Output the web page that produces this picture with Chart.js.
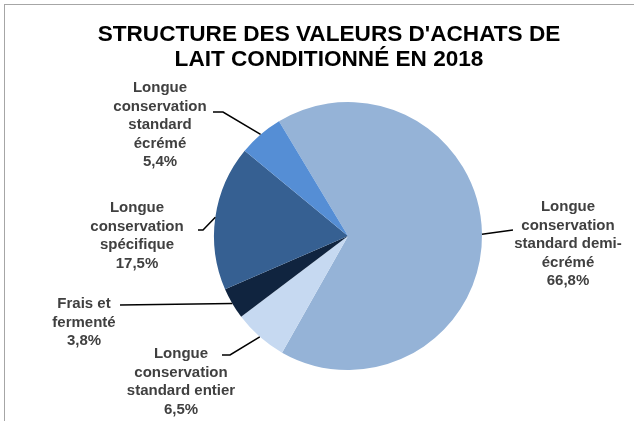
<!DOCTYPE html>
<html>
<head>
<meta charset="utf-8">
<script src="https://cdn.jsdelivr.net/npm/chart.js@4/dist/chart.umd.min.js"></script>
<style>
  html, body { margin: 0; padding: 0; background: #ffffff; width: 634px; height: 421px; overflow: hidden; }
  #wrap { position: relative; width: 634px; height: 421px; }
  #chart { position: absolute; left: 0; top: 0; }
  #frame { position: absolute; left: 4px; top: 4px; width: 700px; height: 500px;
           border-top: 1px solid #a6a6a6; border-left: 1px solid #a6a6a6; pointer-events: none; }
</style>
</head>
<body>
<div id="wrap">
  <canvas id="chart" width="634" height="421"></canvas>
  <div id="frame"></div>
</div>
<script>
// ---- data ----
const TITLE_LINES = ["STRUCTURE DES VALEURS D'ACHATS DE", "LAIT CONDITIONNÉ EN 2018"];
const CATEGORIES = [
  "Longue conservation standard demi-écrémé",
  "Longue conservation standard entier",
  "Frais et fermenté",
  "Longue conservation spécifique",
  "Longue conservation standard écrémé"
];
const SHARES = [66.8, 6.5, 3.8, 17.5, 5.4];
const LABEL_LINES = [
  ["Longue", "conservation", "standard demi-", "écrémé"],
  ["Longue", "conservation", "standard entier"],
  ["Frais et", "fermenté"],
  ["Longue", "conservation", "spécifique"],
  ["Longue", "conservation", "standard", "écrémé"]
];

// ---- styles / layout ----
const COLORS = ["#95B3D7", "#C6D9F1", "#10243F", "#366092", "#558ED5"];
const LABEL_LAYOUT = [
  { cx: 568, y0: 207, pts: [[513, 230]] },
  { cx: 181, y0: 354, pts: [[230, 355], [222, 355]] },
  { cx: 84,  y0: 304, pts: [[120, 305]] },
  { cx: 137, y0: 208, pts: [[203, 230], [198, 230]] },
  { cx: 160, y0: 88,  pts: [[223, 112], [213, 112]] }
];
const LINE_STEP = 18.5;

const overlay = {
  id: 'overlay',
  afterDraw(chart) {
    const ctx = chart.ctx;
    ctx.save();
    // title
    ctx.fillStyle = '#000000';
    ctx.font = 'bold 22.6px "Liberation Sans", Arial, sans-serif';
    ctx.textAlign = 'center';
    ctx.textBaseline = 'middle';
    TITLE_LINES.forEach((t, i) => ctx.fillText(t, 329, 35 + i * 25));

    const meta = chart.getDatasetMeta(0);
    meta.data.forEach((arc, i) => {
      const mid = (arc.startAngle + arc.endAngle) / 2;
      const r = arc.outerRadius;
      const ex = arc.x + Math.cos(mid) * r;
      const ey = arc.y + Math.sin(mid) * r;
      const L = LABEL_LAYOUT[i];
      ctx.strokeStyle = '#000000';
      ctx.lineWidth = 1.5;
      ctx.beginPath();
      ctx.moveTo(ex, ey);
      L.pts.forEach(p => ctx.lineTo(p[0], p[1]));
      ctx.stroke();

      const lines = LABEL_LINES[i].concat([SHARES[i].toFixed(1).replace('.', ',') + '%']);
      ctx.fillStyle = '#404040';
      ctx.font = 'bold 15px "Liberation Sans", Arial, sans-serif';
      ctx.textAlign = 'center';
      ctx.textBaseline = 'middle';
      lines.forEach((t, k) => ctx.fillText(t, L.cx, L.y0 + k * LINE_STEP));
    });
    ctx.restore();
  }
};

new Chart(document.getElementById('chart'), {
  type: 'pie',
  data: {
    labels: CATEGORIES,
    datasets: [{
      data: SHARES,
      backgroundColor: COLORS,
      borderWidth: 0
    }]
  },
  options: {
    responsive: false,
    animation: false,
    rotation: -31,
    layout: { padding: { left: 214, right: 152, top: 102, bottom: 51 } },
    plugins: {
      legend: { display: false },
      tooltip: { enabled: false },
      title: { display: false }
    }
  },
  plugins: [overlay]
});
</script>
</body>
</html>
